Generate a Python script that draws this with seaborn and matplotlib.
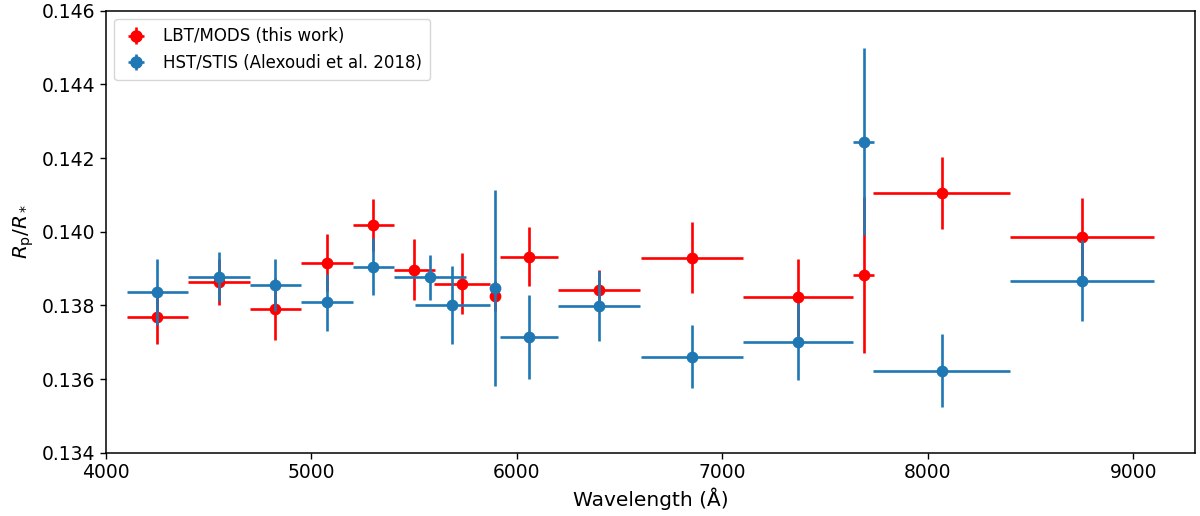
import numpy as np
import pandas as pd
import seaborn as sns
import matplotlib.pyplot as plt
from matplotlib.lines import Line2D

# LBT/MODS (this work)
mods_wave = [4250, 4550, 4825, 5075, 5300, 5500, 5733, 5893, 6058, 6400, 6851, 7368, 7687, 8067, 8750]
mods_werr = [150, 150, 125, 127, 100, 100, 135, 0, 142, 200, 249, 268, 50, 332, 350]
mods_rp = [0.13769, 0.13863, 0.13790, 0.13916, 0.14018, 0.13897, 0.13859, 0.13825,
           0.13932, 0.13842, 0.13929, 0.13822, 0.13882, 0.14106, 0.13985]
mods_rperr = [0.00075, 0.00063, 0.00084, 0.00078, 0.00071, 0.00083, 0.00083, 0.0004,
              0.00080, 0.00054, 0.00096, 0.00105, 0.00212, 0.00098, 0.00107]

# HST/STIS (Alexoudi et al. 2018)
stis_wave = [4250, 4550, 4825, 5075, 5300, 5575, 5685, 5893, 6058, 6400, 6851, 7368, 7687, 8067, 8750]
stis_werr = [150, 150, 125, 127, 100, 175, 182, 0, 142, 200, 249, 268, 50, 332, 350]
stis_rp = [0.13836, 0.13878, 0.13855, 0.13808, 0.13905, 0.13876, 0.13801, 0.13846,
           0.13713, 0.13798, 0.13661, 0.13701, 0.14244, 0.13623, 0.13867]
stis_rperr = [0.00090, 0.00066, 0.00070, 0.00077, 0.00077, 0.00061, 0.00107, 0.00266,
              0.00114, 0.00094, 0.00086, 0.00105, 0.00254, 0.00099, 0.00110]

labels = ["LBT/MODS (this work)", "HST/STIS (Alexoudi et al. 2018)"]
colors = ["red", "#1f77b4"]

sns.set_style("ticks", {"axes.edgecolor": "black", "xtick.color": "black",
                        "ytick.color": "black", "axes.labelcolor": "black",
                        "text.color": "black"})
plt.rcParams["font.family"] = ["DejaVu Sans"]

fig, ax = plt.subplots(figsize=(12, 5.16), dpi=100)
fig.subplots_adjust(left=0.0883, right=0.9958, bottom=0.1227, top=0.9793)

series = [
    (mods_wave, mods_werr, mods_rp, mods_rperr),
    (stis_wave, stis_werr, stis_rp, stis_rperr),
]

handles = []
for i, (wave, werr, rp, rperr) in enumerate(series):
    df = pd.DataFrame({"wave": wave, "rp": rp})
    eb = ax.errorbar(wave, rp, xerr=werr, yerr=rperr, fmt="none", ecolor=colors[i],
                     elinewidth=1.9, capsize=0, zorder=2 + 0.2 * i)
    sns.scatterplot(data=df, x="wave", y="rp", color=colors[i], s=72, linewidth=0,
                    ax=ax, zorder=2.1 + 0.2 * i, legend=False)
    dot = Line2D([], [], marker="o", color=colors[i], linestyle="none", markersize=8)
    handles.append((eb, dot))

ax.set_xlim(4000, 9300)
ax.set_ylim(0.134, 0.146)
ax.set_xticks([4000, 5000, 6000, 7000, 8000, 9000])
ax.set_yticks(np.arange(0.134, 0.1461, 0.002))
ax.yaxis.set_major_formatter(plt.FormatStrFormatter("%.3f"))
ax.tick_params(labelsize=13.5, width=1, length=4)
for sp in ax.spines.values():
    sp.set_linewidth(1.1)
    sp.set_color("black")

ax.set_xlabel("Wavelength (Å)", fontsize=14.5)
ax.set_ylabel(r"$R_{\rm p}/R_*$", fontsize=14.5)

ax.legend(handles, labels, loc="upper left", fontsize=12, frameon=True,
          handlelength=1.6, borderpad=0.5)

fig.savefig("out.png", dpi=100)
